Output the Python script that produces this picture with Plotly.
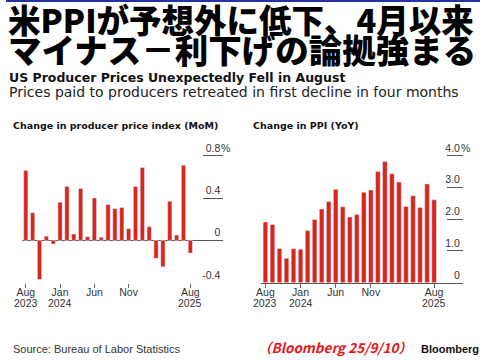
import plotly.graph_objects as go

months = ["2023-08","2023-09","2023-10","2023-11","2023-12",
          "2024-01","2024-02","2024-03","2024-04","2024-05","2024-06","2024-07",
          "2024-08","2024-09","2024-10","2024-11","2024-12",
          "2025-01","2025-02","2025-03","2025-04","2025-05","2025-06","2025-07","2025-08"]

mom = [0.66, 0.26, -0.37, 0.04, -0.035, 0.36, 0.51, 0.06, 0.49, 0.035, 0.40, 0.03,
       0.34, 0.30, 0.31, 0.11, 0.51, 0.69, 0.13, -0.17, -0.25, 0.37, 0.05, 0.71, -0.12]

yoy = [1.91, 1.83, 1.08, 0.77, 1.07, 1.05, 1.64, 1.99, 2.32, 2.56, 2.94, 2.39,
       2.07, 2.15, 2.85, 2.92, 3.50, 3.82, 3.43, 3.17, 2.40, 2.74, 2.37, 3.11, 2.61]

x_tickvals = ["2023-08", "2024-01", "2024-06", "2024-11", "2025-08"]
x_ticktext = ["Aug", "Jan", "Jun", "Nov", "Aug"]
year_ticks = ["2023-08", "2024-01", "2025-08"]
year_text = ["2023", "2024", "2025"]

mom_tickvals = [-0.4, 0, 0.4, 0.8]
mom_ticktext = ["-0.4", "0", "0.4", "0.8"]
yoy_tickvals = [0, 1, 2, 3, 4]
yoy_ticktext = ["0", "1.0", "2.0", "3.0", "4.0"]

RED = "#d7261e"
GRID = "#555555"
TXT = "#333333"
W, H = 480, 360

def px_x(p):
    return p / W

def px_y(p):
    return 1 - p / H

fig = go.Figure()
fig.add_trace(go.Bar(x=months, y=mom, marker_color=RED, width=0.62,
                     xaxis="x", yaxis="y", showlegend=False))
fig.add_trace(go.Bar(x=months, y=yoy, marker_color=RED, width=0.66,
                     xaxis="x2", yaxis="y2", showlegend=False))

ydom = [px_y(282.7), px_y(136)]
tickfont = dict(family="Liberation Sans, Arial, sans-serif", size=10.5, color=TXT)

common_x = dict(type="category", categoryorder="array", categoryarray=months,
                tickmode="array", tickvals=x_tickvals, ticktext=x_ticktext,
                ticks="outside", ticklen=4, tickcolor="#666", tickwidth=1,
                ticklabelstandoff=-4,
                showgrid=False, zeroline=False, tickfont=tickfont, fixedrange=True)

fig.update_layout(
    width=W, height=H,
    margin=dict(l=0, r=0, t=0, b=0),
    paper_bgcolor="white", plot_bgcolor="white",
    xaxis=dict(domain=[px_x(16.7), px_x(220)], range=[-0.48, 28.8],
               anchor="y", showline=False, **common_x),
    xaxis2=dict(domain=[px_x(258), px_x(462.7)], range=[-0.66, 28.1],
                anchor="y2", showline=True, linecolor=GRID, linewidth=1, **common_x),
    yaxis=dict(domain=ydom, range=[-0.4, 0.9866], anchor="x", side="right",
               tickmode="array", tickvals=mom_tickvals, ticktext=mom_ticktext,
               ticks="inside", ticklen=20, tickcolor=GRID, tickwidth=1,
               ticklabelposition="inside top", showgrid=False,
               zeroline=True, zerolinecolor=GRID, zerolinewidth=1,
               showline=False, tickfont=tickfont),
    yaxis2=dict(domain=ydom, range=[0, 4.62], anchor="x2", side="right",
                tickmode="array", tickvals=yoy_tickvals, ticktext=yoy_ticktext,
                ticks="inside", ticklen=16, tickcolor=GRID, tickwidth=1,
                ticklabelposition="inside top", showgrid=False,
                zeroline=False, showline=False, tickfont=tickfont),
)

ann = []
def add_text(text, x, y, size, color="#000", family="Liberation Sans, Arial, sans-serif",
             weight="normal", xanchor="left", style="normal"):
    ann.append(dict(text=text, x=px_x(x), y=px_y(y), xref="paper", yref="paper",
                    xanchor=xanchor, yanchor="middle", showarrow=False,
                    font=dict(size=size, color=color, family=family, weight=weight, style=style)))

jp = "Noto Sans CJK JP, sans-serif"
dj = "DejaVu Sans, sans-serif"
add_text("米PPIが予想外に低下、4月以来", 0, 18, 32.5, family=jp, weight=900)
add_text("マイナス－利下げの論拠強まる", 0, 49, 33.5, family=jp, weight=900)
add_text("US Producer Prices Unexpectedly Fell in August", 1, 77, 12.5, family=dj, weight="bold", color="#111")
add_text("Prices paid to producers retreated in first decline in four months", 1, 92, 14, family=dj, color="#222")
add_text("Change in producer price index (MoM)", 5, 126, 9.5, family=dj, weight="bold", color="#111")
add_text("Change in PPI (YoY)", 248, 126, 9.5, family=dj, weight="bold", color="#111")
add_text("Source: Bureau of Labor Statistics", 5, 349, 11, color="#333")
add_text("（Bloomberg 25/9/10）", 253, 347, 13.5, color="#e8141a", family=jp, weight="bold", style="italic")
add_text("Bloomberg", 418, 349, 11, weight="bold", color="#111")

# year labels under the month ticks (second line of the tick labels)
for xa in ["x", "x2"]:
    for xv, yt in zip(year_ticks, year_text):
        ann.append(dict(text=yt, x=xv, y=px_y(303), xref=xa, yref="paper",
                        xanchor="center", yanchor="middle", showarrow=False, font=tickfont))

# percent signs next to top tick labels
ann.append(dict(text="%", x=px_x(220), y=0.8, xref="paper", yref="y", xanchor="left",
                yanchor="bottom", showarrow=False, xshift=-4, yshift=0, font=tickfont))
ann.append(dict(text="%", x=px_x(462.7), y=4, xref="paper", yref="y2", xanchor="left",
                yanchor="bottom", showarrow=False, xshift=-4, yshift=0, font=tickfont))
fig.update_layout(annotations=ann)

fig.add_shape(type="rect", xref="paper", yref="paper", x0=0, x1=1,
              y0=px_y(2), y1=1, fillcolor="#2233aa", line_width=0, layer="above")

fig.write_html("out.html", config={"displayModeBar": False},
               post_script="document.body.style.margin='0';document.body.style.overflow='hidden';")
